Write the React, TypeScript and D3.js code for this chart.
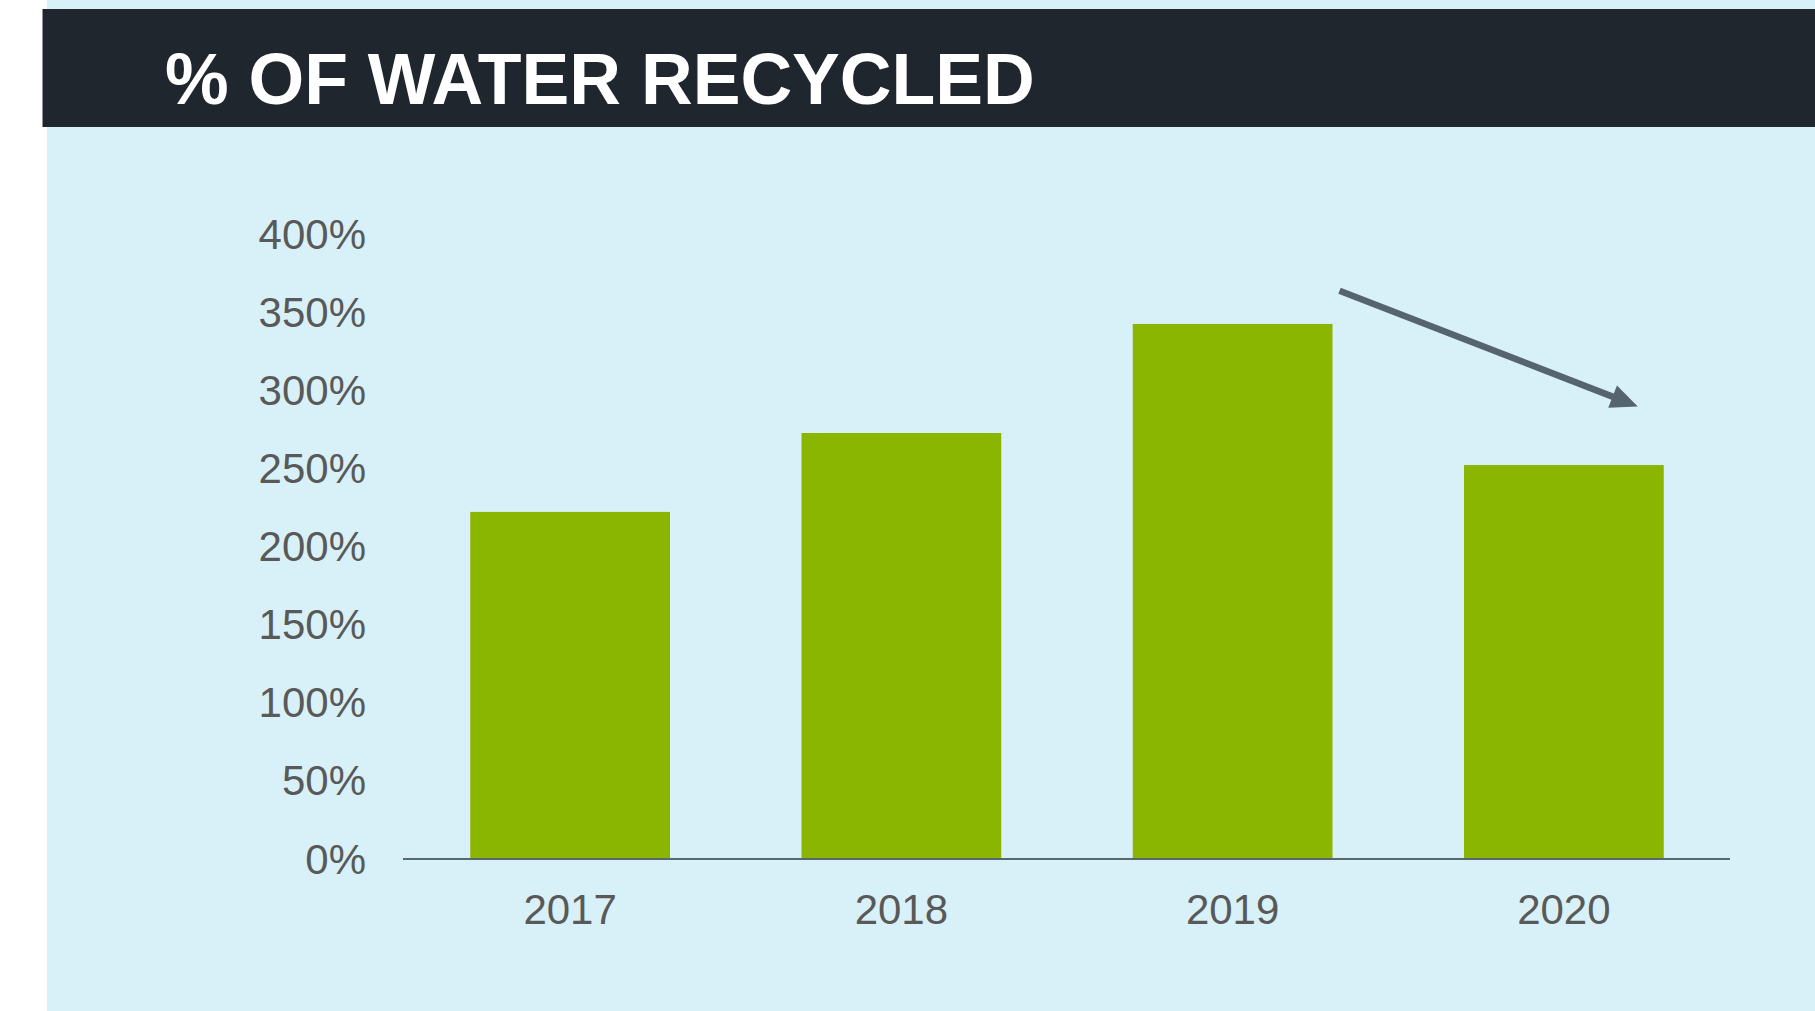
import React from "react";
import * as d3 from "d3";

const years = ["2017", "2018", "2019", "2020"];
const recycledPct = [221.5, 272, 341.8, 251.5];
const yTicks = [0, 50, 100, 150, 200, 250, 300, 350, 400];
const title = "% OF WATER RECYCLED";

const W = 1815;
const H = 1011;
const FONT = "'Liberation Sans', Arial, Helvetica, sans-serif";

export default function App() {
  const x = d3.scaleBand<string>().domain(years).range([404, 1730]).paddingInner(0.397).paddingOuter(0.2);
  const y = d3.scaleLinear().domain([0, 400]).range([858, 233]);
  const bw = x.bandwidth();

  // trend arrow from above 2019 bar to above 2020 bar
  const ax1 = (x("2019") as number) + bw + 7;
  const ay1 = y(363);
  const ax2 = (x("2020") as number) + bw * 0.87;
  const ay2 = y(289);
  const ang = Math.atan2(ay2 - ay1, ax2 - ax1);
  const headLen = 27;
  const headHalf = 12;
  const bx = ax2 - headLen * Math.cos(ang);
  const by = ay2 - headLen * Math.sin(ang);
  const px = -Math.sin(ang);
  const py = Math.cos(ang);
  const head = [
    [ax2, ay2],
    [bx + px * headHalf, by + py * headHalf],
    [bx - px * headHalf, by - py * headHalf],
  ];

  return (
    <svg
      width={W}
      height={H}
      style={{ position: "absolute", left: 0, top: 0, display: "block" }}
    >
      <rect x={0} y={0} width={W} height={H} fill="#ffffff" />
      <rect x={47} y={0} width={W - 47} height={H} fill="#D8F1F8" />
      <rect x={42.5} y={9} width={W - 42.5} height={118} fill="#1F262E" />
      <text x={165} y={104} fill="#ffffff" fontFamily={FONT} fontWeight="bold" fontSize={71.6}>
        {title}
      </text>

      {yTicks.map((t) => (
        <text
          key={t}
          x={366}
          y={y(t)}
          dy={15.5}
          textAnchor="end"
          fill="#595959"
          fontFamily={FONT}
          fontSize={42}
        >
          {`${t}%`}
        </text>
      ))}

      {years.map((yr, i) => (
        <rect
          key={yr}
          x={x(yr)}
          y={y(recycledPct[i])}
          width={bw}
          height={y(0) - y(recycledPct[i])}
          fill="#8AB500"
        />
      ))}

      <line x1={403} x2={1730} y1={y(0) + 1} y2={y(0) + 1} stroke="#5B6770" strokeWidth={2} />

      {years.map((yr) => (
        <text
          key={yr}
          x={(x(yr) as number) + bw / 2}
          y={y(0) + 66}
          textAnchor="middle"
          fill="#595959"
          fontFamily={FONT}
          fontSize={42}
        >
          {yr}
        </text>
      ))}

      <line x1={ax1} y1={ay1} x2={bx + 2 * Math.cos(ang)} y2={by + 2 * Math.sin(ang)} stroke="#56646F" strokeWidth={6.5} />
      <polygon points={head.map((p) => p.join(",")).join(" ")} fill="#56646F" />
    </svg>
  );
}
